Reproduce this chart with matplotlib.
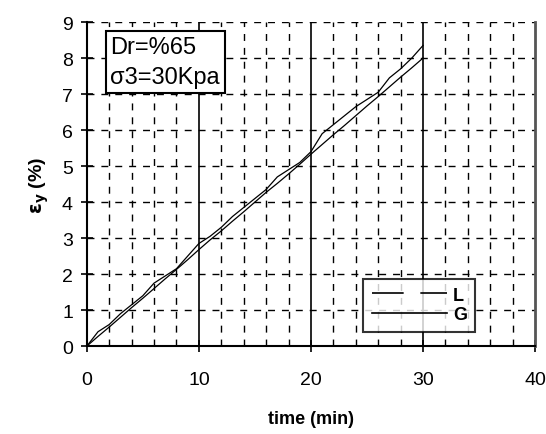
import matplotlib
matplotlib.use("Agg")
import matplotlib.pyplot as plt
from matplotlib.lines import Line2D

plt.rcParams["font.family"] = ["Liberation Sans", "DejaVu Sans"]

time_min = list(range(0, 31))
strain_L = [0, 0.4, 0.6, 0.9, 1.15, 1.4, 1.75, 1.95, 2.15, 2.5, 2.85, 3.05, 3.3,
            3.6, 3.85, 4.1, 4.35, 4.7, 4.9, 5.1, 5.4, 5.9, 6.15, 6.4, 6.65,
            6.85, 7.05, 7.45, 7.7, 8.0, 8.35]
strain_G = [0, 0.27, 0.53, 0.8, 1.07, 1.33, 1.6, 1.87, 2.13, 2.4, 2.68, 2.95,
            3.2, 3.47, 3.73, 4.0, 4.27, 4.52, 4.78, 5.05, 5.33, 5.6, 5.87, 6.13,
            6.4, 6.67, 6.93, 7.2, 7.47, 7.73, 8.0]
x_ticks = [0, 10, 20, 30, 40]
y_ticks = list(range(0, 10))
x_minor = [2, 4, 6, 8, 12, 14, 16, 18, 22, 24, 26, 28, 32, 34, 36, 38]

fig = plt.figure(figsize=(5.46, 4.35), dpi=100)
ax = fig.add_axes([0.159, 0.202, 0.821, 0.745])
ax.set_xlim(0, 40)
ax.set_ylim(0, 9)

# grid: dashed minor verticals and horizontals, solid majors
for x in x_minor:
    ax.axvline(x, color="black", lw=1, ls=(0, (5, 5)), zorder=1)
for y in y_ticks[1:]:
    ax.axhline(y, color="black", lw=1, ls=(0, (5, 5)), zorder=1)
for x in x_ticks[1:-1]:
    ax.axvline(x, color="black", lw=1.2, zorder=1)

ax.plot(time_min, strain_L, color="black", lw=0.9, zorder=3)
ax.plot(time_min, strain_G, color="black", lw=0.9, zorder=3)

ax.set_xticks(x_ticks)
ax.set_yticks(y_ticks)
ax.tick_params(direction="inout", length=8, width=1.2, labelsize=14)
ax.tick_params(axis="x", pad=14)
ax.tick_params(axis="y", pad=6)
ax.spines["top"].set_visible(False)
for s in ("left", "bottom"):
    ax.spines[s].set_linewidth(1.5)
ax.spines["right"].set_linewidth(2)
ax.spines["right"].set_color("#555555")

ax.set_xlabel("time (min)", fontsize=13, fontweight="bold", labelpad=16)
ax.set_ylabel(r"$\mathbf{\varepsilon_y}$ (%)", fontsize=14, fontweight="bold", labelpad=8)

ax.text(2.1, 8.62, "Dr=%65\nσ3=30Kpa", fontsize=17, va="top", ha="left",
        linespacing=1.5,
        bbox=dict(boxstyle="square,pad=0.2", fc="white", ec="black", lw=1.5),
        zorder=5)

handles = [Line2D([], [], color="black", lw=1.2, ls=(0, (19, 10))),
           Line2D([], [], color="black", lw=1.2)]
leg = ax.legend(handles, ["L", "G"], loc="lower left",
                bbox_to_anchor=(0.617, 0.045),
                prop={"weight": "bold", "size": 13},
                frameon=True, fancybox=False, edgecolor="black",
                handlelength=4.2, borderpad=0.45, borderaxespad=0,
                labelspacing=0.15, handletextpad=0.3)
leg.get_frame().set_linewidth(1.5)
leg.set_zorder(6)

fig.savefig("out.png", dpi=100)
